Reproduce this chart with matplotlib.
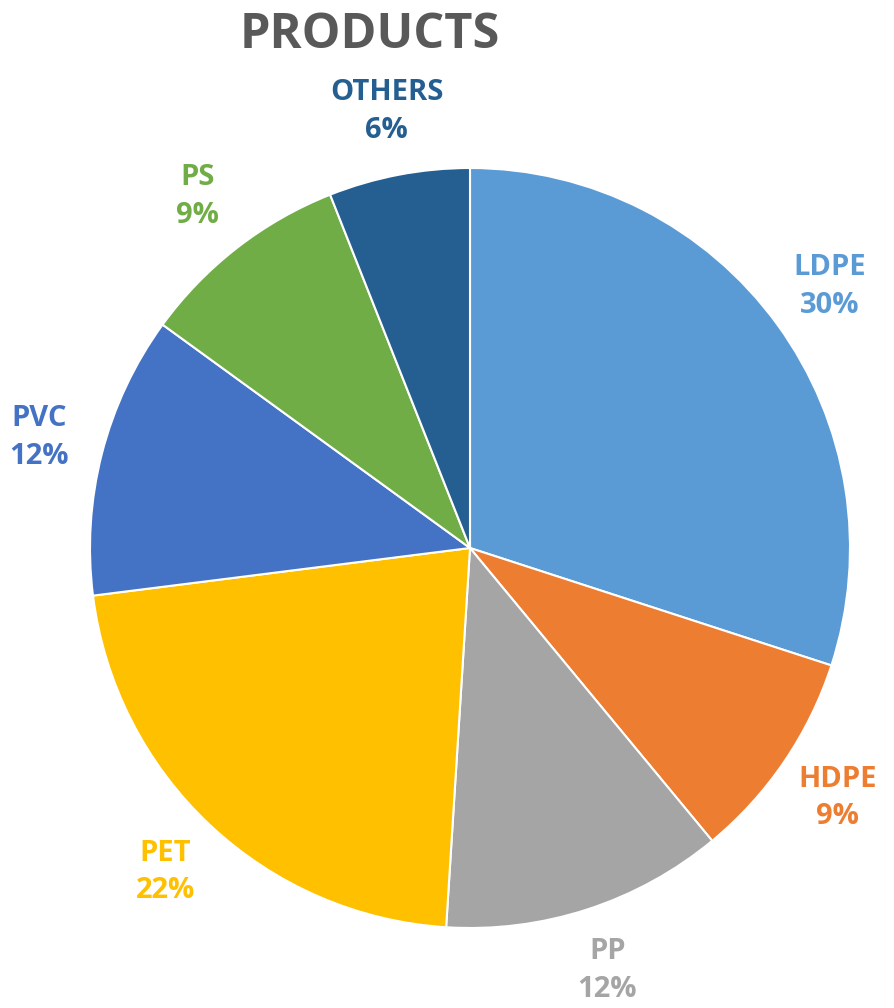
import matplotlib.pyplot as plt
import numpy as np

# data
labels = ["LDPE", "HDPE", "PP", "PET", "PVC", "PS", "OTHERS"]
values = [30, 9, 12, 22, 12, 9, 6]
colors = ["#5B9BD5", "#ED7D31", "#A5A5A5", "#FFC000", "#4472C4", "#70AD47", "#255E91"]

plt.rcParams['font.family'] = ['Open Sans', 'DejaVu Sans']

fig = plt.figure(figsize=(8.94, 10.08), dpi=100)
# pie centre ~ (470, 548) px, radius ~ 380 px
ax = fig.add_axes([90 / 894, (1008 - 548 - 380) / 1008, 760 / 894, 760 / 1008])

wedges, _ = ax.pie(values, colors=colors, startangle=90, counterclock=False,
                   radius=1, wedgeprops=dict(edgecolor="white", linewidth=1.5))
ax.set_xlim(-1, 1)
ax.set_ylim(-1, 1)
ax.set_aspect("equal")
ax.axis("off")

# labels outside each wedge
total = sum(values)
for w, lab, val, col in zip(wedges, labels, values, colors):
    ang = np.deg2rad((w.theta1 + w.theta2) / 2)
    d = 1.17
    ax.text(d * np.cos(ang), d * np.sin(ang), f"{lab}\n{round(100 * val / total)}%",
            ha="center", va="center", color=col, fontsize=21, fontweight="bold",
            linespacing=1.4)

fig.text(370 / 894, 1 - 48 / 1008, "PRODUCTS", ha="center", va="baseline",
         fontsize=35, fontweight="bold", color="#595959")

fig.savefig("out.png", dpi=100)
